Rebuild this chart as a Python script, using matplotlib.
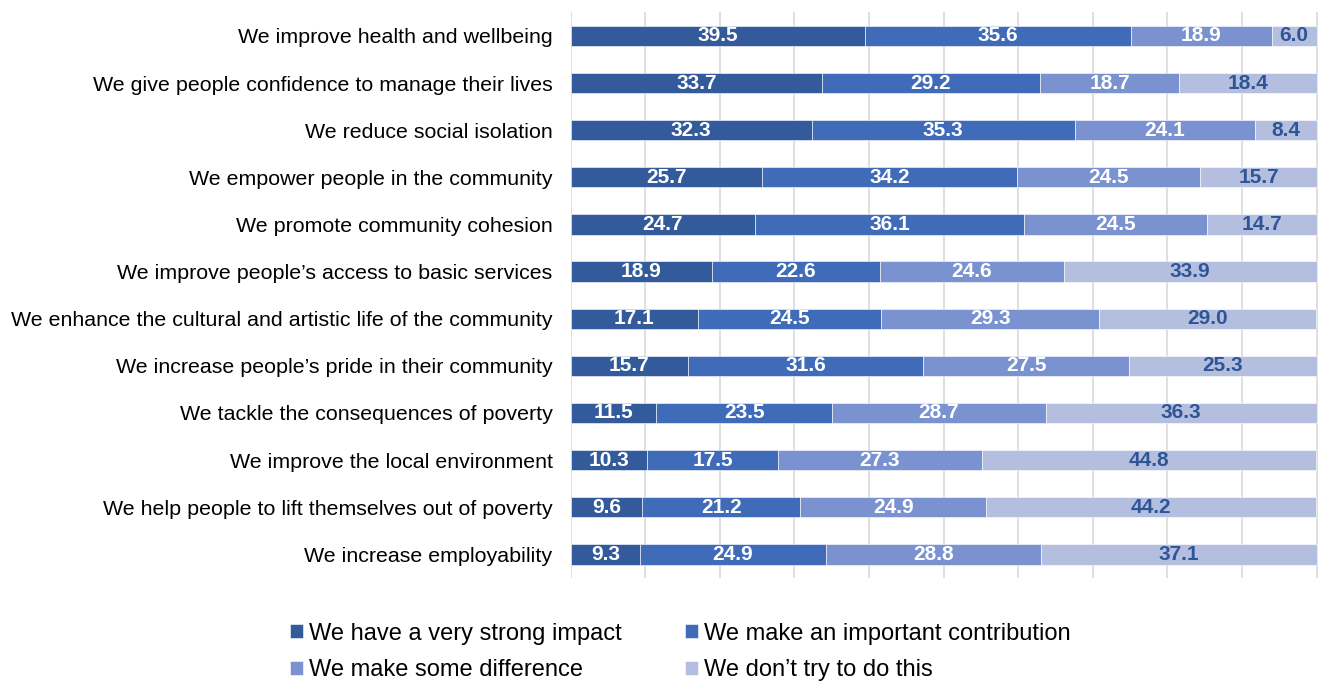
import matplotlib.pyplot as plt
import numpy as np

plt.rcParams['font.family'] = ['Liberation Sans', 'DejaVu Sans']

categories = [
    "We improve health and wellbeing",
    "We give people confidence to manage their lives",
    "We reduce social isolation",
    "We empower people in the community",
    "We promote community cohesion",
    "We improve people\u2019s access to basic services",
    "We enhance the cultural and artistic life of the community",
    "We increase people\u2019s pride in their community",
    "We tackle the consequences of poverty",
    "We improve the local environment",
    "We help people to lift themselves out of poverty",
    "We increase employability",
]
very_strong = [39.5, 33.7, 32.3, 25.7, 24.7, 18.9, 17.1, 15.7, 11.5, 10.3, 9.6, 9.3]
important = [35.6, 29.2, 35.3, 34.2, 36.1, 22.6, 24.5, 31.6, 23.5, 17.5, 21.2, 24.9]
some_diff = [18.9, 18.7, 24.1, 24.5, 24.5, 24.6, 29.3, 27.5, 28.7, 27.3, 24.9, 28.8]
dont_try = [6.0, 18.4, 8.4, 15.7, 14.7, 33.9, 29.0, 25.3, 36.3, 44.8, 44.2, 37.1]

series = [very_strong, important, some_diff, dont_try]
names = ["We have a very strong impact", "We make an important contribution",
         "We make some difference", "We don\u2019t try to do this"]
colors = ["#335a9a", "#3f6bb8", "#7a93d0", "#b4bfe0"]
label_colors = ["white", "white", "white", "#2f5597"]

fig = plt.figure(figsize=(13.21, 6.84), dpi=100)
ax = fig.add_axes([0.432, 0.155, 0.568, 0.827])

y = np.arange(len(categories))
left = np.zeros(len(categories))
handles = []
for vals, name, col, lc in zip(series, names, colors, label_colors):
    vals = np.array(vals)
    bars = ax.barh(y, vals, left=left, height=0.43, color=col,
                   edgecolor="white", linewidth=0.4, label=name, zorder=3)
    ax.bar_label(bars, labels=["%.1f" % v for v in vals], label_type="center",
                 color=lc, fontsize=15, fontweight="bold")
    handles.append(bars)
    left += vals

ax.set_xlim(0, 100.6)
ax.set_ylim(len(categories) - 0.5, -0.5)
ax.set_yticks(y)
ax.set_yticklabels(categories, fontsize=15.4)
ax.set_xticks(np.arange(0, 101, 10))
ax.set_xticklabels([])
ax.tick_params(axis="both", length=0)
ax.tick_params(axis="y", pad=13)
ax.grid(axis="x", color="#d9d9d9", linewidth=1.2, zorder=0)
for s in ax.spines.values():
    s.set_visible(False)

# legend fills column-first, so reorder to get row-wise layout
order = [0, 2, 1, 3]
fig.legend(handles=[handles[i] for i in order], labels=[names[i] for i in order],
           loc="center", bbox_to_anchor=(0.515, 0.047), ncol=2, frameon=False,
           fontsize=17, handlelength=0.55, handleheight=0.55, handletextpad=0.25,
           columnspacing=2.7, labelspacing=0.62)

fig.savefig("out.png", dpi=100)
